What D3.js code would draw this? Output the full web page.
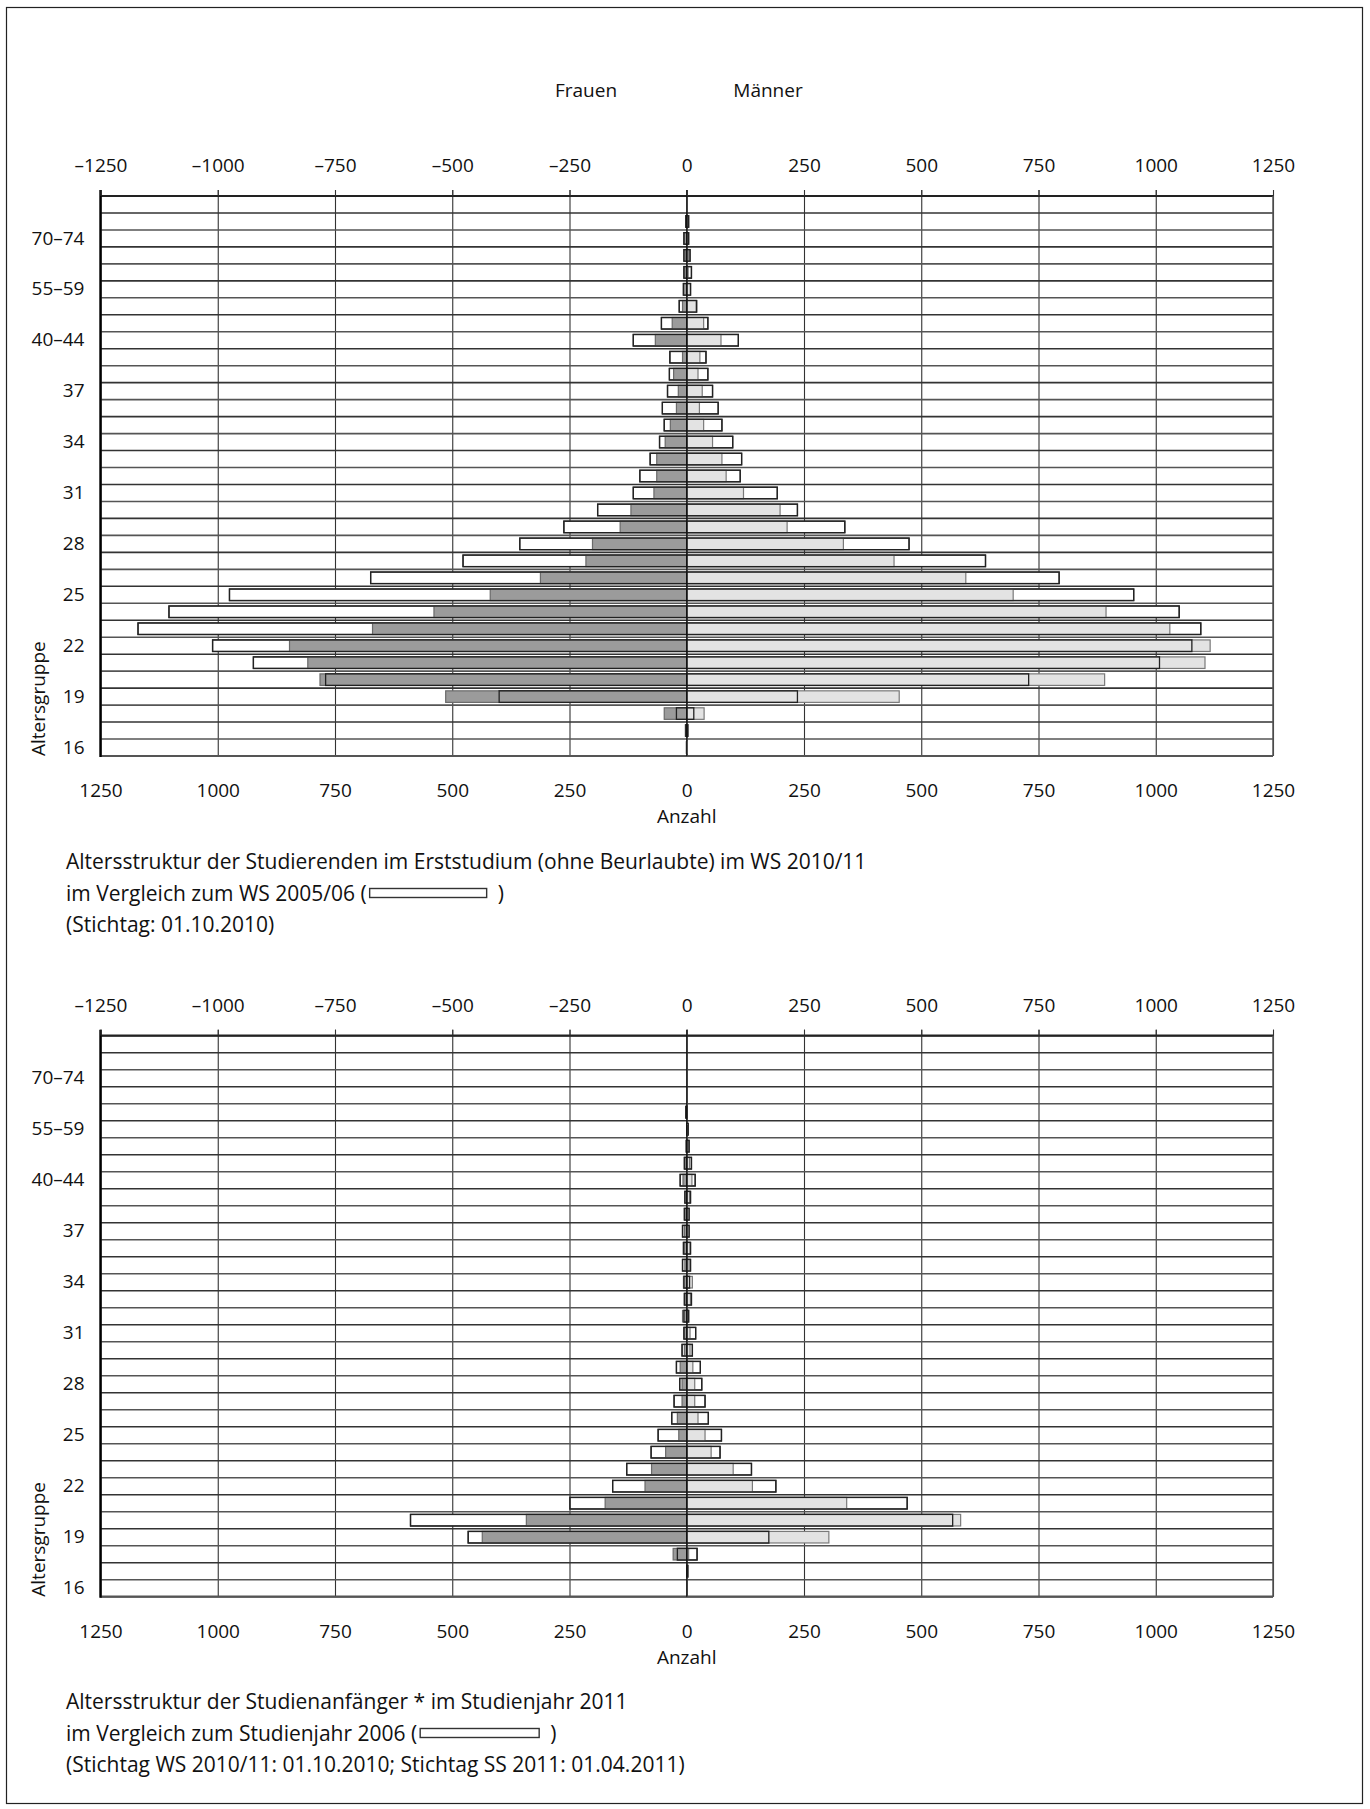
<!DOCTYPE html>
<html>
<head>
<meta charset="utf-8">
<script src="https://cdn.jsdelivr.net/npm/d3@7"></script>
<style>
  html, body { margin: 0; padding: 0; background: #fff; }
  svg text { font-family: "Open Sans", "Noto Sans", sans-serif; fill: #111; }
</style>
</head>
<body>
<svg id="chart" width="1370" height="1809"></svg>
<script>
// ---------- data ----------
const categories = ["16","17","18","19","20","21","22","23","24","25","26","27","28","29","30",
  "31","32","33","34","35","36","37","38","39","40–44","45–49","50–54","55–59","60–64",
  "65–69","70–74","75–79","80+"];
const labeledCategories = ["16","19","22","25","28","31","34","37","40–44","55–59","70–74"];
const xTicks = [-1250,-1000,-750,-500,-250,0,250,500,750,1000,1250];

// Chart 1: Studierende im Erststudium WS 2010/11 vs WS 2005/06
const women2010 = [1,3,48,514,782,808,847,670,539,419,312,215,201,142,119,70,64,64,46,35,22,18,28,9,67,31,9,7,4,3,5,2,0];
const women2005 = [0,2,22,400,770,924,1011,1170,1104,975,674,477,356,262,190,114,100,78,58,48,52,41,37,36,114,54,16,7,6,6,6,2,0];
const men2010   = [1,3,37,453,891,1105,1116,1030,894,696,595,442,334,214,199,121,84,75,55,36,27,33,24,28,73,36,20,8,3,4,3,3,0];
const men2005   = [0,2,15,236,729,1008,1077,1096,1050,953,794,637,474,337,236,193,114,117,98,75,67,55,45,41,110,45,21,8,10,7,4,4,0];

// Chart 2: Studienanfänger Studienjahr 2011 vs Studienjahr 2006
const women2011 = [0,0,29,436,342,174,89,75,45,17,20,10,10,14,5,5,9,4,7,4,5,5,4,4,8,4,0,0,1,0,0,0,0];
const women2006 = [0,0,20,466,589,249,158,128,76,61,32,27,15,22,10,6,6,5,6,9,7,9,5,4,14,5,1,0,2,0,0,0,0];
const men2011   = [0,3,4,303,584,341,140,99,52,39,24,17,17,13,7,7,3,8,12,5,7,5,5,6,11,6,4,2,0,0,0,0,0];
const men2006   = [0,2,22,175,567,470,190,138,71,74,46,39,32,29,12,19,4,10,6,8,8,5,5,8,18,10,5,3,0,0,0,0,0];

const captionsTop = [
  "Altersstruktur der Studierenden im Erststudium (ohne Beurlaubte) im WS 2010/11",
  "im Vergleich zum WS 2005/06 (",
  "(Stichtag: 01.10.2010)"
];
const captionsBottom = [
  "Altersstruktur der Studienanfänger * im Studienjahr 2011",
  "im Vergleich zum Studienjahr 2006 (",
  "(Stichtag WS 2010/11: 01.10.2010; Stichtag SS 2011: 01.04.2011)"
];

// ---------- layout ----------
const svg = d3.select("#chart");
const FS = 19;
const CFS = 21;
const xLeft = 100.5, xRight = 1273;
const x = d3.scaleLinear().domain([-1250, 1250]).range([xLeft, xRight]);

svg.append("rect").attr("x", 6.5).attr("y", 7.5).attr("width", 1356).attr("height", 1796)
  .attr("fill", "none").attr("stroke", "#222").attr("stroke-width", 1.2);

svg.append("text").attr("x", 586).attr("y", 97).attr("text-anchor", "middle")
  .attr("font-size", FS).text("Frauen");
svg.append("text").attr("x", 768).attr("y", 97).attr("text-anchor", "middle")
  .attr("font-size", FS).text("Männer");

function fmtTop(d) { return d < 0 ? "–" + Math.abs(d) : String(d); }

function pyramid(top, bottom, fNew, fOld, mNew, mOld, captions, capY, legendW) {
  const g = svg.append("g");
  const y = d3.scaleBand().domain(categories.slice().reverse()).range([top, bottom]).paddingInner(0).paddingOuter(0);
  const bw = y.bandwidth();
  const bh = bw * 0.68;

  // vertical gridlines
  g.append("g").attr("transform", `translate(0,${bottom})`)
    .call(d3.axisBottom(x).tickValues(xTicks).tickSize(-(bottom - top) - 6).tickFormat(""))
    .call(a => a.select(".domain").remove())
    .call(a => a.selectAll("line").attr("stroke", "#333").attr("stroke-width", 1.1));

  // horizontal row lines
  const bounds = categories.map(c => y(c)).concat([bottom]);
  g.append("g").selectAll("line").data(bounds).join("line")
    .attr("x1", xLeft).attr("x2", xRight)
    .attr("y1", d => d).attr("y2", d => d)
    .attr("stroke", (d, i) => (i % 2 ? "#333" : "#555"))
    .attr("stroke-width", 1.6);
  g.append("line").attr("x1", xLeft).attr("x2", xRight).attr("y1", top).attr("y2", top)
    .attr("stroke", "#222").attr("stroke-width", 2.2);
  g.append("line").attr("x1", xLeft).attr("x2", xRight).attr("y1", bottom).attr("y2", bottom)
    .attr("stroke", "#555").attr("stroke-width", 2.2);
  g.append("line").attr("x1", xRight).attr("x2", xRight).attr("y1", top).attr("y2", bottom)
    .attr("stroke", "#555").attr("stroke-width", 1.5);

  const rows = categories.map((c, i) => ({ c, fn: fNew[i], fo: fOld[i], mn: mNew[i], mo: mOld[i] }));
  const by = d => y(d.c) + (bw - bh) / 2;

  function bars(sel, key, side, fill, stroke, sw) {
    sel.selectAll(null).data(rows.filter(d => d[key] > 0)).join("rect")
      .attr("x", d => side < 0 ? x(-d[key]) : x(0))
      .attr("width", d => side < 0 ? x(0) - x(-d[key]) : x(d[key]) - x(0))
      .attr("y", by).attr("height", bh)
      .attr("fill", fill).attr("stroke", stroke).attr("stroke-width", sw);
  }
  const bg = g.append("g");
  // previous year (white) underneath
  bars(bg, "fo", -1, "#fff", "#333", 1.3);
  bars(bg, "mo", 1, "#fff", "#333", 1.3);
  // current year filled
  bars(bg, "fn", -1, "#9b9b9b", "#6a6a6a", 1.2);
  bars(bg, "mn", 1, "#e3e3e3", "#7a7a7a", 1.2);
  // previous year outline on top
  bars(bg, "fo", -1, "none", "#222", 1.3);
  bars(bg, "mo", 1, "none", "#222", 1.3);

  // zero line and left axis line
  g.append("line").attr("x1", x(0)).attr("x2", x(0)).attr("y1", top - 6).attr("y2", bottom)
    .attr("stroke", "#111").attr("stroke-width", 1.2);
  g.append("line").attr("x1", xLeft).attr("x2", xLeft).attr("y1", top - 6).attr("y2", bottom + 1)
    .attr("stroke", "#000").attr("stroke-width", 2.4);

  // top axis
  g.append("g").attr("transform", `translate(0,${top})`)
    .call(d3.axisTop(x).tickValues(xTicks).tickSize(6).tickPadding(18).tickFormat(fmtTop))
    .call(a => a.select(".domain").remove())
    .call(a => a.selectAll("line").attr("stroke", "#333"))
    .call(a => a.selectAll("text").attr("font-size", FS).attr("font-family", null).attr("fill", "#111"));

  // bottom axis
  g.append("g").attr("transform", `translate(0,${bottom})`)
    .call(d3.axisBottom(x).tickValues(xTicks).tickSize(0).tickPadding(28).tickFormat(d => String(Math.abs(d))))
    .call(a => a.select(".domain").remove())
    .call(a => a.selectAll("text").attr("font-size", FS).attr("font-family", null).attr("fill", "#111"));

  // left axis
  g.append("g").attr("transform", `translate(${xLeft},0)`)
    .call(d3.axisLeft(y).tickValues(labeledCategories).tickSize(0).tickPadding(16))
    .call(a => a.select(".domain").remove())
    .call(a => a.selectAll("text").attr("font-size", FS).attr("font-family", null).attr("fill", "#111"));

  g.append("text").attr("transform", `translate(38,${bottom}) rotate(-90)`)
    .attr("dominant-baseline", "central").attr("font-size", FS).text("Altersgruppe");

  g.append("text").attr("x", x(0)).attr("y", bottom + 67).attr("text-anchor", "middle")
    .attr("font-size", FS).text("Anzahl");

  // captions
  captions.forEach((t, i) => {
    const cy = capY + i * 31.5;
    const tx = g.append("text").attr("x", 66).attr("y", cy).attr("font-size", CFS).text(t);
    if (i === 1) {
      const w = tx.node().getComputedTextLength();
      const lx = 66 + w + 3;
      g.append("rect").attr("x", lx).attr("y", cy - 12).attr("width", legendW).attr("height", 9)
        .attr("fill", "#fff").attr("stroke", "#333").attr("stroke-width", 1.4);
      g.append("text").attr("x", lx + legendW + 11).attr("y", cy).attr("font-size", CFS).text(")");
    }
  });
}

pyramid(196, 756, women2010, women2005, men2010, men2005, captionsTop, 869, 117);
pyramid(1035.7, 1596.7, women2011, women2006, men2011, men2006, captionsBottom, 1709, 119);
</script>
</body>
</html>
